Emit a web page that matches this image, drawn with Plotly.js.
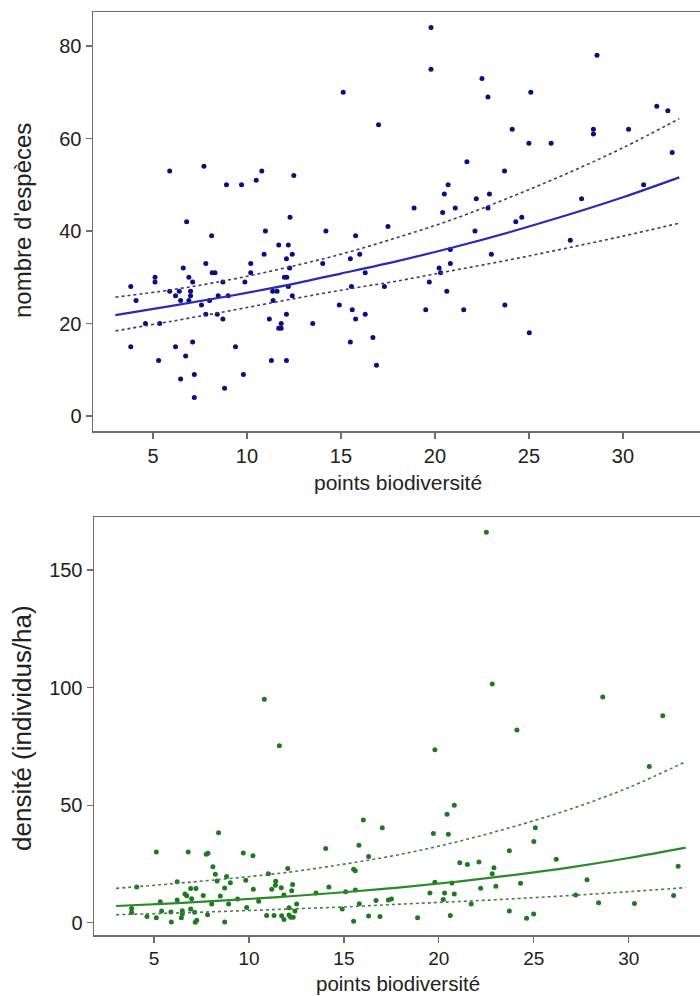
<!DOCTYPE html>
<html>
<head>
<meta charset="utf-8">
<script src="https://cdn.plot.ly/plotly-3.0.1.min.js"></script>
<style>html,body{margin:0;padding:0;background:#fff;}#chart{width:700px;height:996px;}</style>
</head>
<body>
<div id="chart"></div>
<script>
// ---------- Top panel: nombre d'espèces ----------
const speciesX = [15.12,17.0,5.89,7.71,8.91,9.71,10.49,10.79,12.49,6.79,12.29,17.5,19.79,19.79,22.5,22.82,25.1,28.62,31.8,32.39,32.62,24.11,28.43,28.43,30.3,25.0,26.18,21.7,23.7,20.7,20.5,22.9,18.89,20.41,21.08,22.2,22.82,27.8,31.1,24.3,24.62,10.98,14.2,8.12,15.78,11.69,12.2,10.91,12.41,16.0,12.1,14.03,15.5,7.81,10.2,12.27,6.61,8.15,8.3,10.2,16.29,11.99,12.12,5.11,5.11,6.91,7.11,8.72,9.89,3.82,12.2,15.56,17.31,5.89,6.4,7.0,11.37,11.6,6.2,7.0,8.47,9.0,12.41,4.1,6.47,6.91,8.01,11.39,7.58,14.91,12.1,7.81,8.42,16.29,15.6,8.72,11.19,15.78,4.6,5.36,11.82,13.5,11.69,11.82,16.7,15.5,7.11,3.82,6.2,9.39,6.74,5.3,11.3,12.1,16.89,7.2,9.81,6.47,8.81,7.2,22.13,20.82,23.0,27.2,20.82,20.22,20.3,19.7,20.63,19.51,21.53,23.72,25.02];
const speciesY = [70,63,53,54,50,50,51,53,52,42,43,41,84,75,73,69,70,78,67,66,57,62,62,61,62,59,59,55,53,50,48,48,45,44,45,47,45,47,50,42,43,40,40,39,39,37,37,35,35,35,34,33,34,33,33,32,32,31,31,31,31,30,30,30,29,30,29,29,29,28,28,28,28,27,27,27,27,27,26,26,26,26,26,25,25,25,25,25,24,24,22,22,22,22,23,21,21,21,20,20,20,20,19,19,17,16,16,15,15,15,13,12,12,12,11,9,9,8,6,4,40,36,35,38,33,32,31,29,27,23,23,24,18];
const curveX = [3,6,9,12,15,18,21,24,27,30,33];
const speciesFit = [21.8,23.8,25.9,28.2,30.8,33.5,36.5,39.8,43.4,47.3,51.6];
const speciesUpper = [25.7,27.3,29.4,32.0,35.0,38.6,42.6,47.3,52.4,58.0,64.3];
const speciesLower = [18.4,20.5,22.7,25.0,27.2,29.2,31.5,33.8,36.3,38.9,41.7];

// ---------- Bottom panel: densité ----------
const densityX = [10.81,22.5,22.81,28.63,31.79,24.11,19.79,31.08,20.81,20.43,19.71,20.5,25.08,25.0,23.71,26.18,21.1,21.5,22.11,32.6,22.9,22.81,27.8,19.79,20.69,24.3,23.0,22.2,19.53,20.3,20.81,27.2,32.36,20.23,17.5,21.7,28.41,30.3,23.71,20.6,24.99,18.88,24.62,11.6,16.02,17.02,8.4,14.04,15.79,5.12,6.8,9.7,10.21,7.75,7.84,16.3,8.1,12.04,15.51,15.6,8.23,11.02,8.82,6.22,8.32,9.02,9.83,11.41,12.3,11.39,4.09,14.21,11.7,6.93,7.21,8.72,10.23,11.2,12.25,6.63,6.72,7.59,8.49,11.84,13.53,15.09,15.6,6.22,6.98,9.4,5.33,10.51,8.04,8.93,12.51,15.81,16.69,17.34,12.11,3.82,3.82,5.4,5.89,6.49,6.93,7.14,9.88,12.42,14.91,7.82,6.49,4.63,5.12,6.44,10.93,11.32,11.72,12.11,12.33,12.2,11.84,16.3,16.9,5.91,7.17,7.25,8.72,15.51];
const densityY = [95,166,101.5,96,88,82,73.5,66.4,49.9,46.1,37.9,37.6,40.4,34.5,30.6,27.0,25.5,24.7,25.8,24.0,23.4,20.8,18.3,17.2,16.9,16.8,15.5,14.6,12.6,12.6,12.2,11.8,11.6,9.9,10.1,7.9,8.5,8.2,5.0,3.1,3.7,2.1,1.9,75.3,43.7,40.4,38.3,31.6,32.9,30.1,30.1,29.6,28.5,29.1,29.5,28.1,23.8,23.0,22.7,22.1,20.6,20.8,19.6,17.4,17.7,17.0,18.0,17.6,16.2,15.9,15.2,15.2,14.9,14.5,14.5,14.8,14.2,14.2,13.6,12.2,11.5,11.6,11.4,11.8,12.6,13.2,13.9,9.7,10.2,10.1,8.9,9.1,8.0,8.0,8.0,8.1,9.4,9.7,6.4,6.0,4.3,5.0,4.6,5.1,5.8,4.4,6.5,5.0,5.8,3.4,3.7,2.6,2.1,2.1,3.1,3.1,3.0,3.3,2.3,2.3,1.4,2.8,2.6,0.3,0.2,1.0,0.3,0.6];
const densityFit = [7.1,8.25,9.6,11.15,12.95,15.05,17.5,20.35,23.65,27.5,31.9];
const densityUpper = [14.6,16.6,18.8,21.4,24.9,29.1,34.5,41.0,48.5,57.5,68.5];
const densityLower = [3.4,4.1,4.9,5.8,6.7,7.9,9.0,10.2,11.6,13.2,14.9];

const xTitle = "points biodiversité";
const yTitleTop = "nombre d'espèces";
const yTitleBottom = "densité (individus/ha)";

const W = 700, H = 996;
const blueDot = '#0c0c86', blueLine = '#2a2ab8', blueDash = '#3a3a70';
const greenDot = '#1f7a1f', greenLine = '#2a8a2a', greenDash = '#4a7a4a';
const FONT = '"Liberation Sans", Arial, sans-serif';

const traces = [
  {x: speciesX, y: speciesY, type: 'scatter', mode: 'markers', marker: {color: blueDot, size: 5}, xaxis: 'x', yaxis: 'y'},
  {x: curveX, y: speciesFit, type: 'scatter', mode: 'lines', line: {color: blueLine, width: 2.2, shape: 'spline'}, xaxis: 'x', yaxis: 'y'},
  {x: curveX, y: speciesUpper, type: 'scatter', mode: 'lines', line: {color: blueDash, width: 1.6, dash: 'dot', shape: 'spline'}, xaxis: 'x', yaxis: 'y'},
  {x: curveX, y: speciesLower, type: 'scatter', mode: 'lines', line: {color: blueDash, width: 1.6, dash: 'dot', shape: 'spline'}, xaxis: 'x', yaxis: 'y'},
  {x: densityX, y: densityY, type: 'scatter', mode: 'markers', marker: {color: greenDot, size: 5}, xaxis: 'x2', yaxis: 'y2'},
  {x: curveX, y: densityFit, type: 'scatter', mode: 'lines', line: {color: greenLine, width: 2.2, shape: 'spline'}, xaxis: 'x2', yaxis: 'y2'},
  {x: curveX, y: densityUpper, type: 'scatter', mode: 'lines', line: {color: greenDash, width: 1.6, dash: 'dot', shape: 'spline'}, xaxis: 'x2', yaxis: 'y2'},
  {x: curveX, y: densityLower, type: 'scatter', mode: 'lines', line: {color: greenDash, width: 1.6, dash: 'dot', shape: 'spline'}, xaxis: 'x2', yaxis: 'y2'}
];

function axisBase() {
  return {
    showline: true, linecolor: '#6e6e6e', linewidth: 1.5,
    ticks: 'outside', ticklen: 6, tickwidth: 1.2, tickcolor: '#6e6e6e',
    showgrid: false, zeroline: false,
    tickfont: {family: FONT, size: 20, color: '#222'},
    fixedrange: true
  };
}

const layout = {
  width: W, height: H,
  margin: {l: 0, r: 0, t: 0, b: 0},
  paper_bgcolor: '#fff', plot_bgcolor: '#fff',
  showlegend: false,
  font: {family: FONT, color: '#222'},
  xaxis: Object.assign(axisBase(), {domain: [93/W, 1], range: [1.81, 34.1], tickvals: [5,10,15,20,25,30], mirror: true, anchor: 'y'}),
  yaxis: Object.assign(axisBase(), {domain: [1 - 431/H, 1 - 12.3/H], range: [-3.24, 87.3], tickvals: [0,20,40,60,80], anchor: 'x'}),
  xaxis2: Object.assign(axisBase(), {domain: [94/W, 1], range: [1.84, 33.75], tickvals: [5,10,15,20,25,30], mirror: true, anchor: 'y2', tickfont: {family: FONT, size: 19, color: '#222'}}),
  yaxis2: Object.assign(axisBase(), {domain: [1 - 935/H, 1 - 517.3/H], range: [-5.23, 172.4], tickvals: [0,50,100,150], anchor: 'x2'}),
  annotations: [
    {text: xTitle, xref: 'paper', yref: 'paper', x: 398/W, y: 1 - 482/H, xanchor: 'center', yanchor: 'middle', showarrow: false, font: {family: FONT, size: 21, color: '#222'}},
    {text: yTitleTop, xref: 'paper', yref: 'paper', x: 23/W, y: 1 - 221/H, xanchor: 'center', yanchor: 'middle', textangle: -90, showarrow: false, font: {family: FONT, size: 24, color: '#222'}},
    {text: xTitle, xref: 'paper', yref: 'paper', x: 398/W, y: 0, xanchor: 'center', yanchor: 'bottom', borderpad: 0, showarrow: false, font: {family: FONT, size: 20.5, color: '#222'}},
    {text: yTitleBottom, xref: 'paper', yref: 'paper', x: 22/W, y: 1 - 728/H, xanchor: 'center', yanchor: 'middle', textangle: -90, showarrow: false, font: {family: FONT, size: 26, color: '#222'}}
  ]
};

Plotly.newPlot('chart', traces, layout, {staticPlot: true, displayModeBar: false});
</script>
</body>
</html>
